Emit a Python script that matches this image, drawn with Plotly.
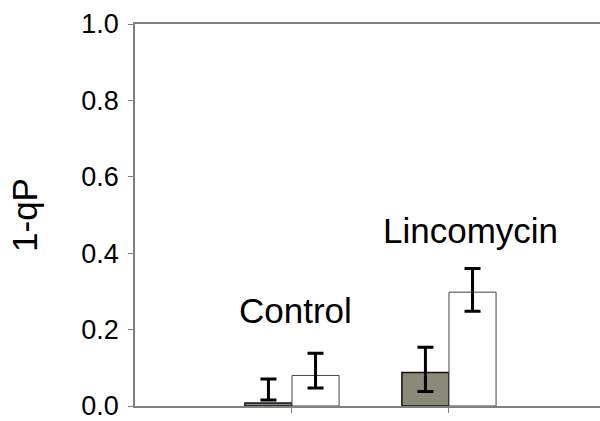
import plotly.graph_objects as go

groups = ["Control", "Lincomycin"]
group_pos = [1, 2]
gray_values = [0.008, 0.088]
white_values = [0.08, 0.298]
gray_err_center = [0.0435, 0.096]
gray_err_half = [0.0275, 0.058]
white_err_center = [0.0925, 0.304]
white_err_half = [0.0455, 0.056]
label_x = [1.025, 2.14]
label_y = [0.25, 0.46]
y_ticks = [0, 0.2, 0.4, 0.6, 0.8, 1.0]
y_ticktext = ["0.0", "0.2", "0.4", "0.6", "0.8", "1.0"]

bw = 0.30
FONT = "Liberation Sans, Arial, sans-serif"

fig = go.Figure()
fig.add_trace(go.Bar(x=group_pos, y=gray_values, width=bw, offset=-bw,
                     marker=dict(color="#8b8a78", line=dict(color="#111111", width=1.5)),
                     showlegend=False))
fig.add_trace(go.Bar(x=group_pos, y=white_values, width=bw, offset=0,
                     marker=dict(color="white", line=dict(color="#444444", width=1)),
                     showlegend=False))
fig.add_trace(go.Scatter(x=[p - bw / 2 for p in group_pos], y=gray_err_center, mode="markers",
                         marker=dict(size=1, color="rgba(0,0,0,0)"),
                         error_y=dict(type="data", array=gray_err_half, color="black", thickness=3, width=8),
                         showlegend=False))
fig.add_trace(go.Scatter(x=[p + bw / 2 for p in group_pos], y=white_err_center, mode="markers",
                         marker=dict(size=1, color="rgba(0,0,0,0)"),
                         error_y=dict(type="data", array=white_err_half, color="black", thickness=3, width=8),
                         showlegend=False))

for g, lx, ly in zip(groups, label_x, label_y):
    fig.add_annotation(x=lx, y=ly, text=g, showarrow=False, xref="x", yref="y",
                       font=dict(family=FONT, size=35, color="black"))

fig.update_layout(
    width=600, height=421,
    margin=dict(l=135, r=0, t=24, b=12),
    paper_bgcolor="white", plot_bgcolor="white",
    barmode="overlay",
    xaxis=dict(range=[0, 2.962], showgrid=False, zeroline=False, showline=True,
               linecolor="#808080", linewidth=1.5, mirror=True,
               tickvals=group_pos, ticks="outside", ticklen=5, tickcolor="#808080",
               showticklabels=False),
    yaxis=dict(range=[0, 1.0], showgrid=False, zeroline=False, showline=True,
               linecolor="#808080", linewidth=1.5,
               tickvals=y_ticks, ticktext=y_ticktext,
               ticks="outside", ticklen=5, tickcolor="#808080",
               tickfont=dict(family=FONT, size=27, color="black"),
               ticklabelstandoff=4, ticklabeloverflow="allow",
               title=dict(text="1-qP", font=dict(family=FONT, size=35, color="black"), standoff=33)),
)

fig.write_html("out.html", config={"displayModeBar": False},
               post_script="document.body.style.margin='0';")
